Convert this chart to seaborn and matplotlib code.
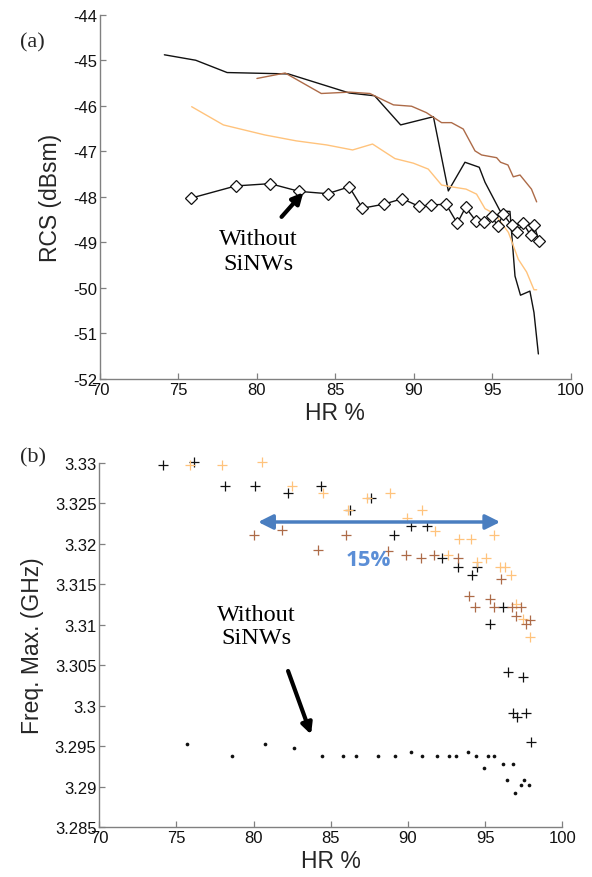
import matplotlib
matplotlib.use("Agg")
import matplotlib.pyplot as plt
import seaborn as sns
import pandas as pd

# ---------------- data: panel (a) ----------------
black_x = [74.1, 76.1, 78.1, 82.0, 85.9, 87.5, 89.16, 91.25, 92.2, 93.26, 94.17, 94.54,
           95.5, 96.13, 96.45, 96.8, 97.4, 97.66, 97.94]
black_y = [-44.88, -45.0, -45.27, -45.3, -45.72, -45.78, -46.42, -46.24, -47.87, -47.24,
           -47.35, -47.68, -48.31, -48.32, -49.74, -50.16, -50.07, -50.54, -51.45]

brown_x = [80.0, 81.8, 84.1, 85.9, 87.2, 87.85, 88.7, 89.86, 90.8, 91.77, 92.4, 93.15,
           93.9, 94.32, 95.28, 95.53, 96.0, 96.34, 96.77, 97.5, 97.83]
brown_y = [-45.4, -45.28, -45.73, -45.7, -45.73, -45.84, -45.98, -46.01, -46.15, -46.37,
           -46.37, -46.51, -46.99, -47.08, -47.14, -47.24, -47.3, -47.56, -47.52, -47.83, -48.11]

orange_x = [75.84, 77.86, 80.5, 82.5, 84.45, 86.1, 87.37, 88.8, 89.97, 90.92, 91.77, 92.41,
            93.33, 94.0, 94.54, 95.18, 96.03, 96.66, 97.19, 97.66, 97.83]
orange_y = [-46.02, -46.42, -46.64, -46.77, -46.86, -46.97, -46.84, -47.16, -47.26, -47.39,
            -47.74, -47.78, -47.83, -47.94, -48.26, -48.38, -48.78, -49.37, -49.65, -50.04, -50.04]

ref_x = [75.78, 78.65, 80.84, 82.7, 84.5, 85.88, 86.72, 88.1, 89.27, 90.33, 91.07, 92.05,
         92.77, 93.3, 93.96, 94.47, 95.0, 95.34, 95.7, 96.23, 96.55, 96.97, 97.44, 97.66, 97.99]
ref_y = [-48.03, -47.76, -47.71, -47.88, -47.93, -47.78, -48.25, -48.16, -48.04, -48.21,
         -48.18, -48.16, -48.58, -48.23, -48.53, -48.55, -48.42, -48.65, -48.38, -48.62,
         -48.78, -48.58, -48.84, -48.62, -48.98]

# ---------------- data: panel (b) ----------------
fb_black_x = [74.1, 76.16, 78.15, 80.09, 82.2, 84.37, 86.25, 87.61, 89.1, 90.2, 91.22, 92.19,
              93.23, 94.17, 94.5, 95.28, 96.18, 96.47, 96.77, 97.05, 97.44, 97.63, 97.96]
fb_black_y = [3.32975, 3.3301, 3.3272, 3.3272, 3.32625, 3.3272, 3.3242, 3.32567, 3.32114,
              3.32217, 3.32217, 3.31822, 3.3171, 3.31615, 3.3171, 3.31009, 3.31216, 3.30412,
              3.29906, 3.29856, 3.30358, 3.29906, 3.29555]

fb_orange_x = [75.88, 77.93, 80.52, 82.47, 84.52, 86.14, 87.33, 88.8, 89.92, 90.89, 91.76,
               92.62, 93.33, 94.09, 94.5, 95.06, 95.54, 95.97, 96.25, 96.68, 97.0, 97.48, 97.87]
fb_orange_y = [3.32975, 3.32975, 3.3301, 3.3272, 3.32625, 3.3242, 3.32567, 3.32625, 3.3232,
               3.32423, 3.32163, 3.31866, 3.3206, 3.3206, 3.31772, 3.31822, 3.32114, 3.3171,
               3.3171, 3.31615, 3.31257, 3.31071, 3.30853]

fb_brown_x = [80.03, 81.86, 84.15, 85.99, 88.73, 89.86, 90.83, 91.69, 93.23, 93.96, 94.35,
              95.28, 95.54, 96.03, 96.73, 96.99, 97.33, 97.63, 97.91]
fb_brown_y = [3.3211, 3.32172, 3.3192, 3.32114, 3.31917, 3.31862, 3.31822, 3.31866, 3.31822,
              3.3136, 3.31216, 3.31319, 3.31216, 3.31566, 3.31216, 3.31112, 3.31216, 3.31009,
              3.31059]

fb_ref_x = [75.66, 78.58, 80.74, 82.64, 84.41, 85.81, 86.64, 88.04, 89.16, 90.18, 90.93, 91.9,
            92.68, 93.12, 93.88, 94.39, 94.89, 95.21, 95.58, 96.14, 96.4, 96.77, 96.9, 97.33,
            97.54, 97.85]
fb_ref_y = [3.29522, 3.29374, 3.29522, 3.29481, 3.29374, 3.29374, 3.29374, 3.29374, 3.29374,
            3.2943, 3.29374, 3.29374, 3.29374, 3.29374, 3.2943, 3.29374, 3.2923, 3.29374,
            3.29374, 3.29278, 3.29081, 3.29278, 3.2892, 3.29023, 3.29081, 3.29023]

x_ticks = [70, 75, 80, 85, 90, 95, 100]
rcs_ticks = [-52, -51, -50, -49, -48, -47, -46, -45, -44]
freq_ticks = [3.285, 3.29, 3.295, 3.3, 3.305, 3.31, 3.315, 3.32, 3.325, 3.33]
freq_labels = ["3.285", "3.29", "3.295", "3.3", "3.305", "3.31", "3.315", "3.32", "3.325", "3.33"]

# ---------------- styling ----------------
sns.set_theme(style="white")
plt.rcParams['font.family'] = ['Liberation Sans', 'DejaVu Sans']
plt.rcParams['axes.unicode_minus'] = False
SERIF = ['Liberation Serif', 'DejaVu Serif']
C_BLACK = '#111111'
C_BROWN = '#AD6B48'
C_ORANGE = '#FFC37C'
AX_GRAY = '#808080'

fig = plt.figure(figsize=(5.92, 8.78), dpi=100)
ax1 = fig.add_axes([0.169, 0.5672, 0.795, 0.4149])
ax2 = fig.add_axes([0.1677, 0.0569, 0.7823, 0.4146])


def style_axes(ax):
    for s in ['top', 'right']:
        ax.spines[s].set_visible(False)
    for s in ['left', 'bottom']:
        ax.spines[s].set_color(AX_GRAY)
        ax.spines[s].set_linewidth(1.0)
    ax.tick_params(axis='both', direction='in', length=4, width=0.9, color=AX_GRAY,
                   labelsize=12, labelcolor='#111111', pad=2, left=True, bottom=True)
    ax.grid(False)


# ---------------- panel (a) ----------------
sns.lineplot(x=black_x, y=black_y, ax=ax1, color=C_BLACK, lw=1.0, sort=False, estimator=None)
sns.lineplot(x=brown_x, y=brown_y, ax=ax1, color=C_BROWN, lw=1.0, sort=False, estimator=None)
sns.lineplot(x=orange_x, y=orange_y, ax=ax1, color=C_ORANGE, lw=1.0, sort=False, estimator=None)
sns.lineplot(x=ref_x, y=ref_y, ax=ax1, color=C_BLACK, lw=1.0, sort=False, estimator=None,
             marker='D', markersize=6, markerfacecolor='white', markeredgecolor=C_BLACK,
             markeredgewidth=0.9)

ax1.set_xlim(70, 100)
ax1.set_ylim(-52, -44)
ax1.set_xticks(x_ticks)
ax1.set_yticks(rcs_ticks)
style_axes(ax1)
ax1.set_xlabel("HR %", fontsize=16.5, labelpad=3)
ax1.set_ylabel("RCS (dBsm)", fontsize=16.5, labelpad=8)

ax1.annotate("", xy=(82.96, -47.9), xytext=(81.57, -48.44),
             arrowprops=dict(arrowstyle='-|>', color='black', lw=3, mutation_scale=16,
                             shrinkA=0, shrinkB=0))
ax1.text(80.1, -49.19, "Without\nSiNWs", ha='center', va='center', fontsize=17.5,
         family=SERIF, linespacing=1.3, color='black')
fig.text(0.033, 0.951, "(a)", fontsize=16, family=SERIF, ha='left', va='center')

# ---------------- panel (b) ----------------
for xs, ys, col in [(fb_black_x, fb_black_y, C_BLACK),
                    (fb_orange_x, fb_orange_y, C_ORANGE),
                    (fb_brown_x, fb_brown_y, C_BROWN)]:
    sns.scatterplot(x=xs, y=ys, ax=ax2, marker='+', s=60, color=col, linewidth=0.9,
                    clip_on=False)
sns.scatterplot(x=fb_ref_x, y=fb_ref_y, ax=ax2, marker='o', s=7, color=C_BLACK,
                linewidth=0, clip_on=False)

ax2.set_xlim(70, 100)
ax2.set_ylim(3.285, 3.33)
ax2.set_xticks(x_ticks)
ax2.set_yticks(freq_ticks)
ax2.set_yticklabels(freq_labels)
style_axes(ax2)
ax2.set_xlabel("HR %", fontsize=16.5, labelpad=3)
ax2.set_ylabel("Freq. Max. (GHz)", fontsize=16.5, labelpad=8)

ax2.annotate("", xy=(95.97, 3.32271), xytext=(80.29, 3.32271),
             arrowprops=dict(arrowstyle='<|-|>', color='#4A7EC0', lw=2.5, mutation_scale=22,
                             shrinkA=0, shrinkB=0))
ax2.text(87.42, 3.31813, "15%", ha='center', va='center', fontsize=16, fontweight='bold',
         color='#5B8ED6', family=['Open Sans', 'DejaVu Sans'])

ax2.annotate("", xy=(83.72, 3.29644), xytext=(82.23, 3.30429),
             arrowprops=dict(arrowstyle='-|>', color='black', lw=3, mutation_scale=16,
                             shrinkA=0, shrinkB=0))
ax2.text(80.16, 3.30985, "Without\nSiNWs", ha='center', va='center', fontsize=17.5,
         family=SERIF, linespacing=1.15, color='black')
fig.text(0.033, 0.478, "(b)", fontsize=16, family=SERIF, ha='left', va='center')

fig.savefig("out.png", dpi=100)
